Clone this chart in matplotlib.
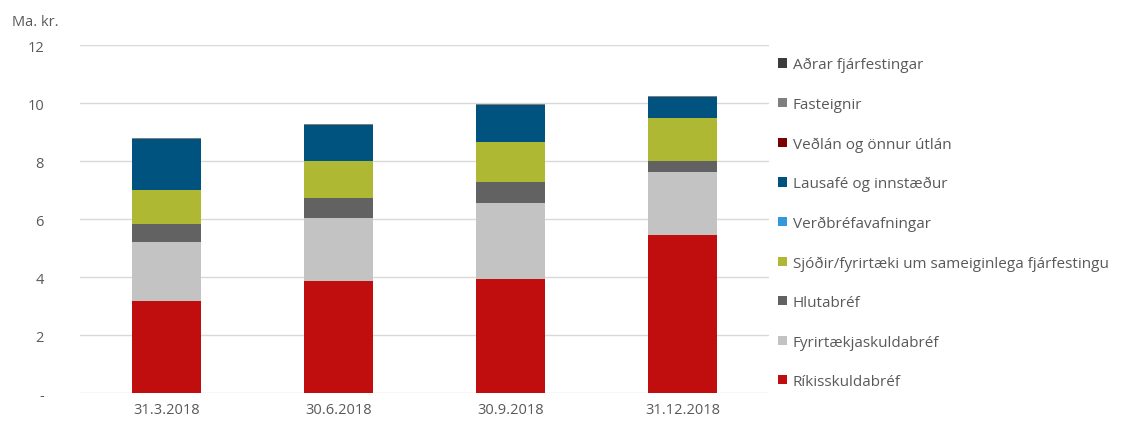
import matplotlib
matplotlib.use('Agg')
import matplotlib.pyplot as plt
import numpy as np

# Dates on the x axis
dates = ['31.3.2018', '30.6.2018', '30.9.2018', '31.12.2018']

# Series, bottom of the stack first (Ma. kr.)
rikis = [3.19, 3.88, 3.93, 5.47]
fyrirtaekja = [2.02, 2.15, 2.64, 2.16]
hluta = [0.62, 0.70, 0.70, 0.37]
sjodir = [1.17, 1.27, 1.41, 1.48]
verdbref = [0.0, 0.0, 0.0, 0.0]
lausafe = [1.77, 1.25, 1.25, 0.72]
vedlan = [0.0, 0.0, 0.0, 0.0]
fasteignir = [0.03, 0.04, 0.04, 0.04]
adrar = [0.0, 0.0, 0.0, 0.0]

series = [
    ('Ríkisskuldabréf', rikis, '#C00D0D'),
    ('Fyrirtækjaskuldabréf', fyrirtaekja, '#C3C3C3'),
    ('Hlutabréf', hluta, '#626262'),
    ('Sjóðir/fyrirtæki um sameiginlega fjárfestingu', sjodir, '#AFB833'),
    ('Verðbréfavafningar', verdbref, '#3399DD'),
    ('Lausafé og innstæður', lausafe, '#00537E'),
    ('Veðlán og önnur útlán', vedlan, '#7B0000'),
    ('Fasteignir', fasteignir, '#7F7F7F'),
    ('Aðrar fjárfestingar', adrar, '#3C3C3C'),
]

plt.rcParams['font.family'] = ['Open Sans', 'DejaVu Sans']
txt = '#595959'

fig = plt.figure(figsize=(11.29, 4.27), dpi=100)
ax = fig.add_axes([0.0709, 0.0766, 0.6101, 0.815])

x = np.arange(len(dates))
bottom = np.zeros(len(dates))
handles = []
for name, vals, col in series:
    b = ax.bar(x, vals, 0.4, bottom=bottom, color=col, label=name, zorder=3)
    handles.append(b)
    bottom += np.array(vals)

ax.set_xlim(-0.5, 3.5)
ax.set_ylim(0, 12)
ax.set_yticks(range(0, 13, 2))
ax.set_yticklabels(['-'] + [str(v) for v in range(2, 13, 2)])
ax.set_xticks(x)
ax.set_xticklabels(dates)
ax.tick_params(axis='both', length=0, colors=txt, labelsize=10.5)
ax.tick_params(axis='y', pad=26)
ax.tick_params(axis='x', pad=6)
for lbl in ax.get_yticklabels():
    lbl.set_horizontalalignment('right')

ax.grid(axis='y', color='#D9D9D9', linewidth=1, zorder=0)
for s in ax.spines.values():
    s.set_visible(False)

fig.text(0.011, 0.948, 'Ma. kr.', color=txt, fontsize=10.5, va='center')

leg = fig.legend(handles[::-1], [s[0] for s in series][::-1],
                 loc='upper left', bbox_to_anchor=(0.684, 0.878),
                 frameon=False, fontsize=11, labelcolor=txt,
                 handlelength=0.55, handleheight=0.55, handletextpad=0.4,
                 labelspacing=1.6, borderaxespad=0)

fig.savefig('out.png', dpi=100)
